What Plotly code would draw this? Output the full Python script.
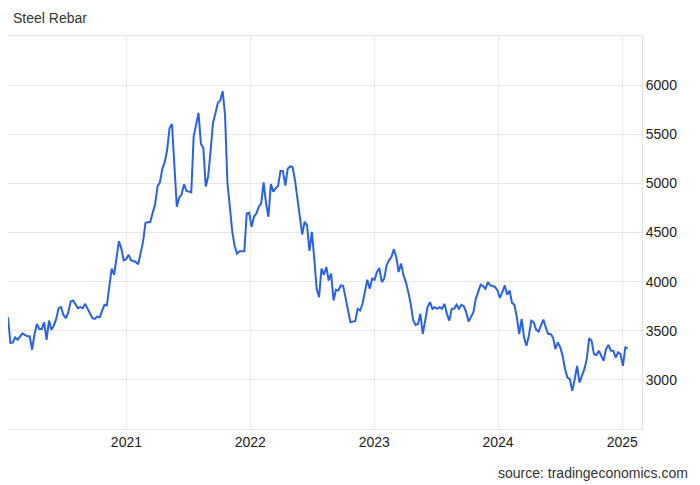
import pandas as pd
import plotly.graph_objects as go

title_text = "Steel Rebar"
source_text = "source: tradingeconomics.com"
start_date = "2020-01-18"
end_date = "2025-01-17"

prices = [
    3637, 3375, 3382, 3433, 3409, 3443, 3474, 3457, 3443, 3443,
    3307, 3467, 3569, 3518, 3518, 3586, 3406, 3603, 3511, 3552,
    3620, 3730, 3740, 3661, 3627, 3689, 3798, 3808, 3774, 3730,
    3740, 3730, 3774, 3723, 3661, 3627, 3620, 3644, 3637, 3706,
    3764, 3757, 3961, 4132, 4070, 4251, 4411, 4336, 4217, 4227,
    4275, 4217, 4210, 4200, 4176, 4292, 4404, 4599, 4602, 4609,
    4701, 4786, 4967, 5011, 5148, 5216, 5342, 5564, 5604, 5189,
    4762, 4855, 4889, 4991, 4923, 4916, 4909, 5478, 5598, 5717,
    5403, 5359, 4967, 5069, 5325, 5615, 5710, 5819, 5843, 5938,
    5700, 5001, 4762, 4507, 4360, 4285, 4309, 4309, 4309, 4694,
    4701, 4558, 4660, 4694, 4762, 4797, 5011, 4797, 4660, 4994,
    4916, 4950, 4974, 5127, 5127, 4977, 5148, 5172, 5165, 5035,
    4831, 4677, 4480, 4609, 4575, 4312, 4507, 4234, 3927, 3842,
    4132, 4070, 4149, 4012, 4081, 3808, 3917, 3910, 3961, 3955,
    3842, 3723, 3586, 3593, 3597, 3723, 3706, 3774, 3910, 4019,
    3927, 4030, 4019, 4098, 4139, 3995, 4030, 4166, 4217, 4251,
    4330, 4251, 4098, 4183, 4064, 3995, 3893, 3774, 3610, 3559,
    3569, 3672, 3467, 3603, 3740, 3791, 3723, 3740, 3723, 3740,
    3723, 3774, 3672, 3603, 3723, 3723, 3764, 3723, 3764, 3750,
    3689, 3593, 3637, 3689, 3825, 3893, 3968, 3955, 3927, 3995,
    3961, 3955, 3944, 3910, 3835, 3893, 3961, 3866, 3910, 3784,
    3764, 3637, 3467, 3620, 3433, 3348, 3450, 3603, 3586, 3511,
    3491, 3552, 3614, 3535, 3467, 3467, 3433, 3314, 3382, 3331,
    3245, 3109, 3024, 3007, 2888, 3007, 3143, 2973, 3041, 3109,
    3211, 3423, 3399, 3262, 3252, 3297, 3245, 3194, 3314, 3355,
    3297, 3297, 3228, 3280, 3262, 3143, 3331, 3320,
]

y_tick_values = [2500, 3000, 3500, 4000, 4500, 5000, 5500, 6000, 6500]
y_tick_labels = ["", "3000", "3500", "4000", "4500", "5000", "5500", "6000", ""]
x_range = ["2020-01-18", "2025-02-28"]
y_range = [2500, 6500]

dates = pd.date_range(start_date, end_date, periods=len(prices))

# The page body adds an 8px margin, so the figure is sized to fit the window.
W, H = 692, 477
ML, MT, MR, MB = 0, 28, 58, 56
plot_w = W - ML - MR
plot_h = H - MT - MB

fig = go.Figure()
fig.add_trace(go.Scatter(
    x=dates, y=prices, mode="lines",
    line=dict(color="#2a62e6", width=2),
    hoverinfo="x+y", showlegend=False,
))

font_family = "Liberation Sans, Arial, Helvetica, sans-serif"

fig.update_layout(
    width=W, height=H,
    margin=dict(l=ML, r=MR, t=MT, b=MB),
    paper_bgcolor="white", plot_bgcolor="white",
    font=dict(family=font_family, size=14, color="#222"),
    title=dict(text=title_text, x=5 / W, xanchor="left", xref="container",
               y=1 - 10 / H, yanchor="middle", yref="container",
               font=dict(size=14, color="#333", family=font_family)),
    xaxis=dict(
        type="date", range=x_range, tick0="2021-01-01", dtick="M12",
        tickformat="%Y", showgrid=True, gridcolor="#ededed", gridwidth=1,
        showline=True, linecolor="#e3e3e3", linewidth=1, mirror=True,
        ticks="", zeroline=False, tickfont=dict(size=14, color="#222"),
    ),
    yaxis=dict(
        side="right", range=y_range, tickvals=y_tick_values, ticktext=y_tick_labels,
        showgrid=True, gridcolor="#e8e8e8", gridwidth=1,
        showline=True, linecolor="#e3e3e3", linewidth=1, mirror=False,
        ticks="", zeroline=False, tickfont=dict(size=14, color="#222"),
    ),
    annotations=[dict(
        text=source_text, xref="paper", yref="paper",
        x=(682 - ML) / plot_w, y=-44 / plot_h, xanchor="right", yanchor="middle",
        showarrow=False, font=dict(size=14, color="#333", family=font_family),
    )],
)

fig.write_html("out.html")
